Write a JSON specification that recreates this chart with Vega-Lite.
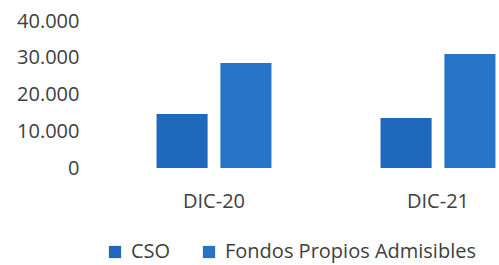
{
  "$schema": "https://vega.github.io/schema/vega-lite/v6.json",
  "width": 397,
  "height": 147,
  "autosize": {"type": "none"},
  "padding": {"left": 102, "top": 21, "right": 0, "bottom": 97},
  "background": "white",
  "data": {
    "values": [
      {"periodo": "DIC-20", "serie": "CSO", "valor": 14700},
      {"periodo": "DIC-20", "serie": "Fondos Propios Admisibles", "valor": 28600},
      {"periodo": "DIC-21", "serie": "CSO", "valor": 13600},
      {"periodo": "DIC-21", "serie": "Fondos Propios Admisibles", "valor": 31000}
    ]
  },
  "mark": {"type": "bar"},
  "encoding": {
    "x": {
      "field": "periodo", "type": "nominal", "title": null,
      "scale": {"range": [0, 448], "paddingInner": 0.487, "paddingOuter": 0.2435},
      "axis": {"labelAngle": 0, "domain": false, "ticks": false, "labelPadding": 23, "labelFontSize": 20, "labelFont": "Open Sans", "labelColor": "#404040"}
    },
    "xOffset": {"field": "serie", "type": "nominal", "scale": {"paddingInner": 0.2, "paddingOuter": 0}},
    "y": {
      "field": "valor", "type": "quantitative", "title": null,
      "scale": {"domain": [0, 40000], "nice": false},
      "axis": {"values": [0, 10000, 20000, 30000, 40000], "format": ",d", "grid": false, "domain": false, "ticks": false, "labelPadding": 23, "labelFontSize": 20, "labelFont": "Open Sans", "labelColor": "#404040"}
    },
    "color": {
      "field": "serie", "type": "nominal", "title": null,
      "scale": {"domain": ["CSO", "Fondos Propios Admisibles"], "range": ["#1f69bd", "#2674c8"]},
      "legend": {"orient": "none", "legendX": 3, "legendY": 221, "direction": "horizontal", "symbolType": "square", "symbolSize": 150, "symbolStrokeWidth": 0, "labelFontSize": 20, "labelFont": "Open Sans", "labelColor": "#404040", "labelOffset": 6, "labelLimit": 400, "columnPadding": 28}
    }
  },
  "config": {
    "view": {"stroke": null},
    "locale": {"number": {"decimal": ",", "thousands": ".", "grouping": [3], "currency": ["", " €"]}}
  }
}
